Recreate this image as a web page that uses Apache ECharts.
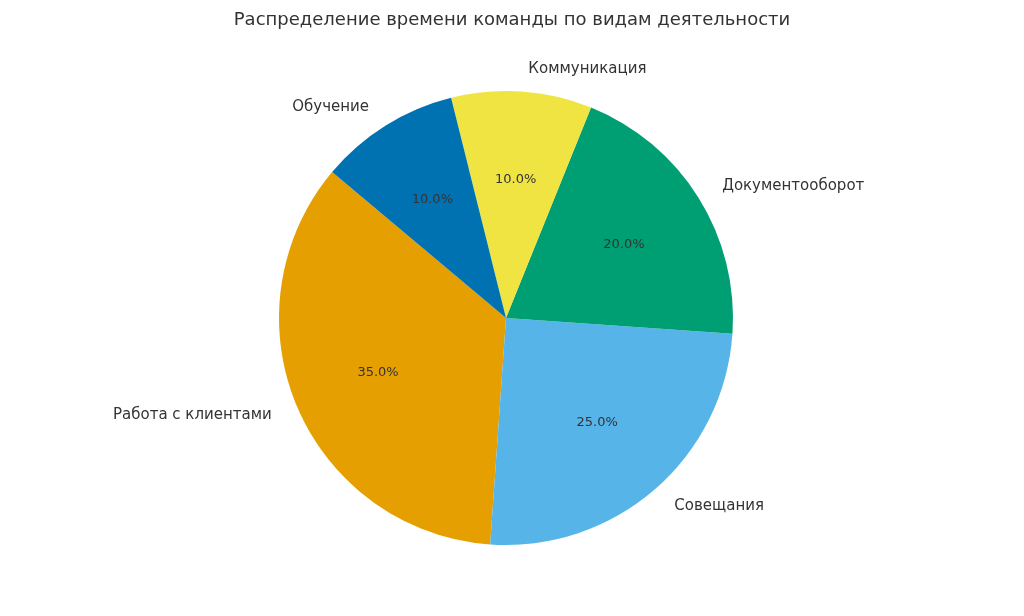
<!DOCTYPE html><html><head><meta charset="utf-8">
<script src="https://cdn.jsdelivr.net/npm/echarts@6/dist/echarts.min.js"></script>
<style>body{margin:0}#c{width:1024px;height:616px;background:#fff}</style></head><body><div id="c"></div><script>
const categories=["Работа с клиентами","Совещания","Документооборот","Коммуникация","Обучение"];
const values=[35,25,20,10,10];
const colors=["#E69F00","#56B4E9","#009E73","#F0E442","#0072B2"];
const font="DejaVu Sans";
const data=categories.map((n,i)=>({name:n,value:values[i],itemStyle:{color:colors[i]}}));
const c=echarts.init(document.getElementById('c'));
c.setOption({animation:false,
title:{text:"Распределение времени команды по видам деятельности",left:'center',top:6,textStyle:{fontFamily:font,fontSize:18,fontWeight:'normal',color:'#333'}},
series:[
{type:'pie',center:[506,318],radius:[0,227],startAngle:140,clockwise:false,data:data,
 label:{position:'outside',fontFamily:font,fontSize:15,color:'#333'},labelLine:{show:false,length:22,length2:0},emphasis:{disabled:true}},
{type:'pie',center:[506,318],radius:[0,272],startAngle:140,clockwise:false,silent:true,z:5,
 data:data.map(d=>({name:d.name,value:d.value,itemStyle:{color:'rgba(0,0,0,0)'}})),
 label:{position:'inside',formatter:p=>p.value.toFixed(1)+'%',fontFamily:font,fontSize:13,color:'#333'},labelLine:{show:false}}
]});
</script></body></html>
